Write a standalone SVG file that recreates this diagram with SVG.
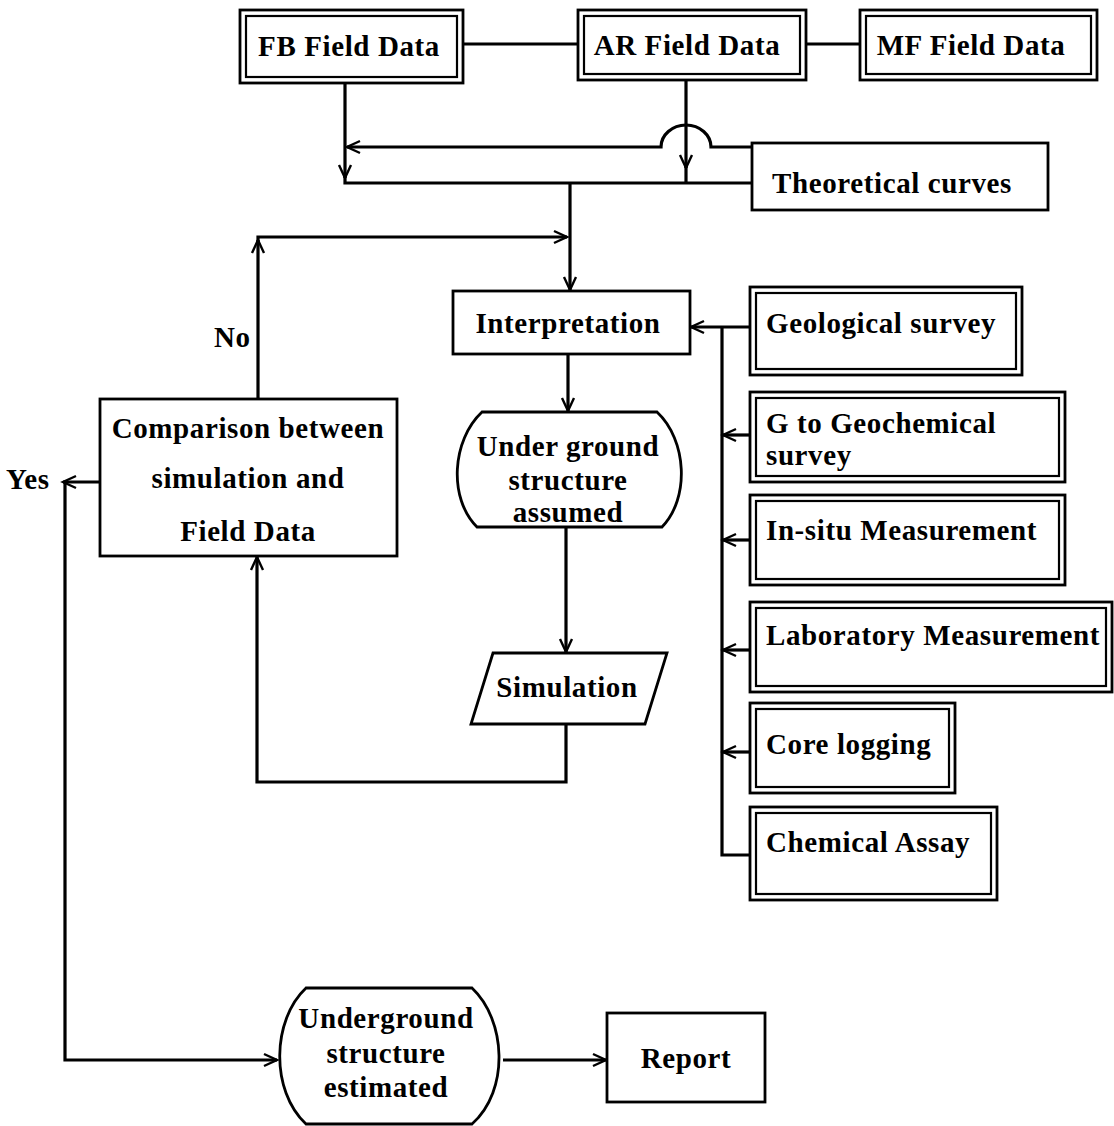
<svg xmlns="http://www.w3.org/2000/svg" width="1114" height="1126" viewBox="0 0 1114 1126">
<defs>
<marker id="arr" markerUnits="userSpaceOnUse" markerWidth="20" markerHeight="16" refX="15" refY="8" orient="auto">
<path d="M2,2 L15,8 L2,14" fill="none" stroke="#000" stroke-width="2.4"/>
</marker>
<style>
.o{fill:#fff;stroke:#000;stroke-width:2.8}
.i{fill:none;stroke:#000;stroke-width:2.2}
.c{fill:none;stroke:#000;stroke-width:3.2}
.t{font-family:"Liberation Serif",serif;font-weight:bold;font-size:29px;letter-spacing:0.6px;fill:#000}
.m{text-anchor:middle}
</style>
</defs>
<rect width="1114" height="1126" fill="#fff"/>
<g id="connectors">
<path class="c" d="M463,44 H578"/>
<path class="c" d="M806,44 H860"/>
<path class="c" d="M345,84 V178" marker-end="url(#arr)"/>
<path class="c" d="M345,176 V183 H752"/>
<path class="c" d="M686,80 V168" marker-end="url(#arr)"/>
<path class="c" d="M686,166 V183"/>
<path class="c" d="M752,147 H711 A25,22 0 0 0 661,147 H347" marker-end="url(#arr)"/>
<path class="c" d="M570,183 V290" marker-end="url(#arr)"/>
<path class="c" d="M258,399 V240" marker-end="url(#arr)"/>
<path class="c" d="M258,242 V237 H567" marker-end="url(#arr)"/>
<path class="c" d="M568,354 V411" marker-end="url(#arr)"/>
<path class="c" d="M566,527 V652" marker-end="url(#arr)"/>
<path class="c" d="M566,724 V782 H257 V557" marker-end="url(#arr)"/>
<path class="c" d="M100,482 H63" marker-end="url(#arr)"/>
<path class="c" d="M65,482 V1060 H277" marker-end="url(#arr)"/>
<path class="c" d="M503,1060 H606" marker-end="url(#arr)"/>
<path class="c" d="M750,327 H691" marker-end="url(#arr)"/>
<path class="c" d="M722,327 V855 H750"/>
<path class="c" d="M750,435 H723" marker-end="url(#arr)"/>
<path class="c" d="M750,540 H723" marker-end="url(#arr)"/>
<path class="c" d="M750,650 H723" marker-end="url(#arr)"/>
<path class="c" d="M750,752 H723" marker-end="url(#arr)"/>
</g>
<g id="fb">
<rect class="o" x="240" y="10" width="223" height="73"/>
<rect class="i" x="246" y="16" width="211" height="61"/>
<text class="t m" x="349" y="56">FB Field Data</text>
</g>
<g id="ar">
<rect class="o" x="578" y="10" width="228" height="70"/>
<rect class="i" x="584" y="16" width="216" height="58"/>
<text class="t m" x="687" y="55">AR Field Data</text>
</g>
<g id="mf">
<rect class="o" x="860" y="10" width="237" height="70"/>
<rect class="i" x="866" y="16" width="225" height="58"/>
<text class="t m" x="971" y="55">MF Field Data</text>
</g>
<g id="theoretical">
<rect class="o" x="752" y="143" width="296" height="67"/>
<text class="t m" x="892" y="193">Theoretical curves</text>
</g>
<g id="interpretation">
<rect class="o" x="453" y="291" width="237" height="63"/>
<text class="t m" x="568" y="333">Interpretation</text>
</g>
<g id="assumed">
<path class="o" d="M482,412 H657 C687,440 690,498 662,527 H477 C448,498 452,440 482,412 Z"/>
<text class="t m" x="568" y="456">Under ground</text>
<text class="t m" x="568" y="490">structure</text>
<text class="t m" x="568" y="522">assumed</text>
</g>
<g id="simulation">
<path class="o" d="M493,653 H667 L645,724 H471 Z"/>
<text class="t m" x="567" y="697">Simulation</text>
</g>
<g id="comparison">
<rect class="o" x="100" y="399" width="297" height="157"/>
<text class="t m" x="248" y="438">Comparison between</text>
<text class="t m" x="248" y="488">simulation and</text>
<text class="t m" x="248" y="541">Field Data</text>
</g>
<text class="t" x="214" y="347">No</text>
<text class="t" x="6" y="489">Yes</text>
<g id="geological">
<rect class="o" x="750" y="287" width="272" height="88"/>
<rect class="i" x="756" y="293" width="260" height="76"/>
<text class="t" x="766" y="333">Geological survey</text>
</g>
<g id="geochemical">
<rect class="o" x="750" y="392" width="315" height="90"/>
<rect class="i" x="756" y="398" width="303" height="78"/>
<text class="t" x="766" y="433">G to Geochemical</text>
<text class="t" x="766" y="465">survey</text>
</g>
<g id="insitu">
<rect class="o" x="750" y="495" width="315" height="90"/>
<rect class="i" x="756" y="501" width="303" height="78"/>
<text class="t" x="766" y="540">In-situ Measurement</text>
</g>
<g id="laboratory">
<rect class="o" x="750" y="602" width="362" height="90"/>
<rect class="i" x="756" y="608" width="350" height="78"/>
<text class="t" x="766" y="645">Laboratory Measurement</text>
</g>
<g id="core">
<rect class="o" x="750" y="703" width="205" height="90"/>
<rect class="i" x="756" y="709" width="193" height="78"/>
<text class="t" x="766" y="754">Core logging</text>
</g>
<g id="chemical">
<rect class="o" x="750" y="807" width="247" height="93"/>
<rect class="i" x="756" y="813" width="235" height="81"/>
<text class="t" x="766" y="852">Chemical Assay</text>
</g>
<g id="estimated">
<path class="o" d="M306,988 H472 C506,1020 510,1090 472,1124 H306 C270,1090 272,1020 306,988 Z"/>
<text class="t m" x="386" y="1028">Underground</text>
<text class="t m" x="386" y="1063">structure</text>
<text class="t m" x="386" y="1097">estimated</text>
</g>
<g id="report">
<rect class="o" x="607" y="1013" width="158" height="89"/>
<text class="t m" x="686" y="1068">Report</text>
</g>
</svg>
